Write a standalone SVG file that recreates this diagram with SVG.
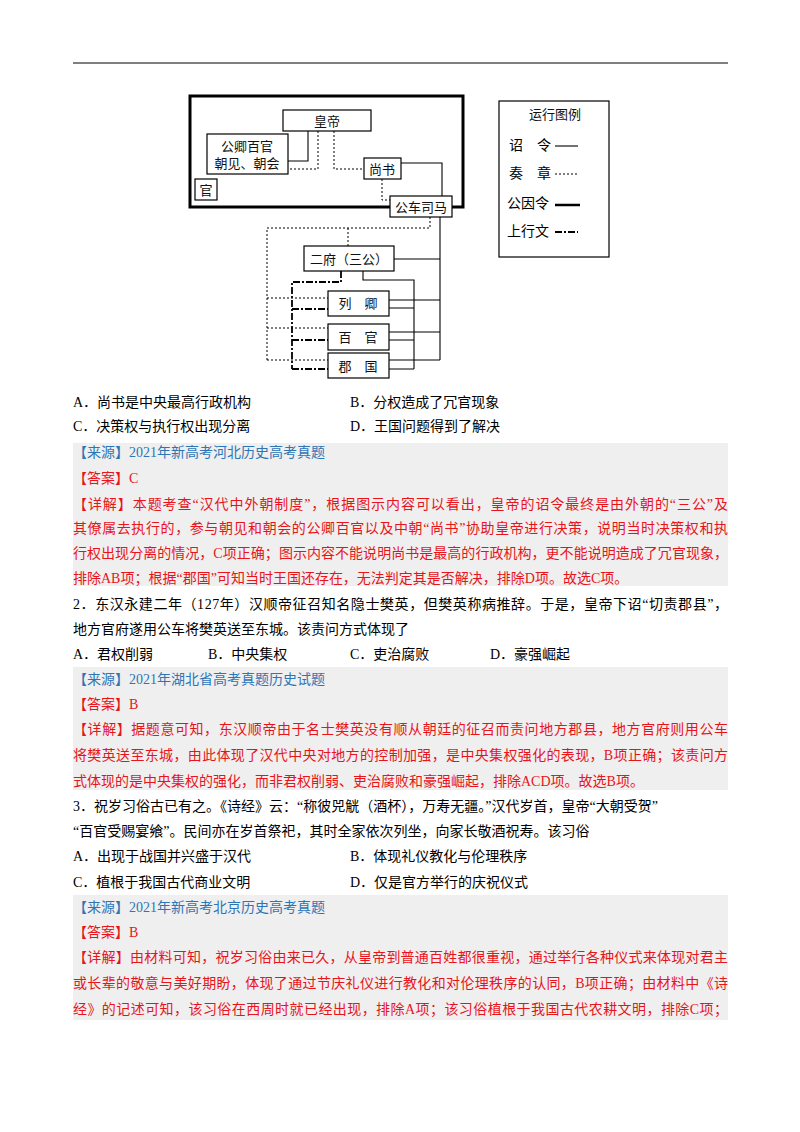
<svg xmlns="http://www.w3.org/2000/svg" width="800" height="1132" viewBox="0 0 800 1132">
<style>
.n{fill:#fff;stroke:#000;stroke-width:1.2}
.t{font-family:"Liberation Serif","Noto Sans CJK SC",serif;font-size:14px;fill:#000}
.d{font-family:"Liberation Serif","Noto Sans CJK SC",serif;font-size:13px;fill:#111;text-anchor:middle}
.s{fill:none;stroke:#000;stroke-width:1.1}
.o{fill:none;stroke:#000;stroke-width:1;stroke-dasharray:2,2}
.dd{fill:none;stroke:#000;stroke-width:1.8;stroke-dasharray:7,2,2,2}
.b{fill:#2e75b6}.r{fill:#e8141b}
.g{fill:#efefef}
</style>
<rect width="800" height="1132" fill="#fff"/>
<line x1="73" y1="63" x2="728" y2="63" stroke="#000" stroke-width="1"/>
<g id="outer"><rect x="190" y="96" width="273" height="111" fill="none" stroke="#000" stroke-width="3"/></g>
<g id="connectors">
<path class="s" d="M308 131V161H288"/>
<path class="o" d="M318 131V169H288"/>
<path class="o" d="M334 131V169H364"/>
<path class="s" d="M401 163H442V196"/>
<path class="o" d="M382 179V200H390"/>
<path class="s" d="M440 217V360"/>
<path class="s" d="M394 259H440M389 300H440M389 332H440M389 360H440"/>
<path class="o" d="M430 217V228H267V360M348 228V246M267 298H328M267 328H328M267 360H328"/>
<path class="s" d="M363 271V280H414V369M389 308H414M389 340H414M389 369H414"/>
<path class="dd" d="M341 271V282H292V369M292 309H328M292 340H328M292 369H328"/>
</g>
<g id="n-emperor"><rect class="n" x="283" y="110" width="88" height="21"/><text class="d" x="327" y="126">皇帝</text></g>
<g id="n-gongqing"><rect class="n" x="207" y="134" width="81" height="40"/><text class="d" x="247" y="151">公卿百官</text><text class="d" x="247" y="168">朝见、朝会</text></g>
<g id="n-guan"><rect class="n" x="195" y="179" width="22" height="21"/><text class="d" x="206" y="195">官</text></g>
<g id="n-shangshu"><rect class="n" x="364" y="158" width="37" height="21"/><text class="d" x="382" y="174">尚书</text></g>
<g id="n-gongche"><rect class="n" x="390" y="196" width="62" height="21"/><text class="d" x="421" y="212">公车司马</text></g>
<g id="n-erfu"><rect class="n" x="304" y="246" width="90" height="25"/><text class="d" x="349" y="264">二府（三公）</text></g>
<g id="n-lieqing"><rect class="n" x="328" y="291" width="61" height="25"/><text class="d" x="358" y="308">列　卿</text></g>
<g id="n-baiguan"><rect class="n" x="328" y="324" width="61" height="26"/><text class="d" x="358" y="342">百　官</text></g>
<g id="n-junguo"><rect class="n" x="328" y="353" width="61" height="25"/><text class="d" x="358" y="371">郡　国</text></g>
<g id="legend">
<rect x="499" y="101" width="110" height="156" fill="#fff" stroke="#000" stroke-width="1.2"/>
<text class="d" x="555" y="119">运行图例</text>
<text class="t" x="509" y="150" font-size="13">诏　令</text><line class="s" x1="555" y1="146" x2="578" y2="146"/>
<text class="t" x="509" y="178" font-size="13">奏　章</text><line class="o" x1="555" y1="174" x2="578" y2="174"/>
<text class="t" x="507" y="208" font-size="13">公因令</text><line x1="555" y1="205" x2="580" y2="205" stroke="#000" stroke-width="2.5"/>
<text class="t" x="507" y="236" font-size="13">上行文</text><line class="dd" x1="555" y1="232" x2="578" y2="232"/>
</g>
<g id="text">
<text class="t" x="73" y="407">A．尚书是中央最高行政机构</text>
<text class="t" x="350" y="407">B．分权造成了冗官现象</text>
<text class="t" x="73" y="431">C．决策权与执行权出现分离</text>
<text class="t" x="350" y="431">D．王国问题得到了解决</text>
<rect class="g" x="73" y="443" width="655" height="143"/>
<text class="t b" x="73" y="457">【来源】2021年新高考河北历史高考真题</text>
<text class="t r" x="73" y="483">【答案】C</text>
<text class="t r" x="73" y="509" textLength="655" lengthAdjust="spacing">【详解】本题考查“汉代中外朝制度”，根据图示内容可以看出，皇帝的诏令最终是由外朝的“三公”及</text>
<text class="t r" x="73" y="533" textLength="655" lengthAdjust="spacing">其僚属去执行的，参与朝见和朝会的公卿百官以及中朝“尚书”协助皇帝进行决策，说明当时决策权和执</text>
<text class="t r" x="73" y="558" textLength="655" lengthAdjust="spacing">行权出现分离的情况，C项正确；图示内容不能说明尚书是最高的行政机构，更不能说明造成了冗官现象，</text>
<text class="t r" x="73" y="583">排除AB项；根据“郡国”可知当时王国还存在，无法判定其是否解决，排除D项。故选C项。</text>
<text class="t" x="73" y="609" textLength="655" lengthAdjust="spacing">2．东汉永建二年（127年）汉顺帝征召知名隐士樊英，但樊英称病推辞。于是，皇帝下诏“切责郡县”，</text>
<text class="t" x="73" y="634">地方官府遂用公车将樊英送至东城。该责问方式体现了</text>
<text class="t" x="73" y="659">A．君权削弱</text>
<text class="t" x="208" y="659">B．中央集权</text>
<text class="t" x="350" y="659">C．吏治腐败</text>
<text class="t" x="490" y="659">D．豪强崛起</text>
<rect class="g" x="73" y="667" width="655" height="123"/>
<text class="t b" x="73" y="684">【来源】2021年湖北省高考真题历史试题</text>
<text class="t r" x="73" y="709">【答案】B</text>
<text class="t r" x="73" y="734" textLength="655" lengthAdjust="spacing">【详解】据题意可知，东汉顺帝由于名士樊英没有顺从朝廷的征召而责问地方郡县，地方官府则用公车</text>
<text class="t r" x="73" y="760" textLength="655" lengthAdjust="spacing">将樊英送至东城，由此体现了汉代中央对地方的控制加强，是中央集权强化的表现，B项正确；该责问方</text>
<text class="t r" x="73" y="786">式体现的是中央集权的强化，而非君权削弱、吏治腐败和豪强崛起，排除ACD项。故选B项。</text>
<text class="t" x="73" y="811">3．祝岁习俗古已有之。《诗经》云：“称彼兕觥（酒杯），万寿无疆。”汉代岁首，皇帝“大朝受贺”</text>
<text class="t" x="73" y="836">“百官受赐宴飨”。民间亦在岁首祭祀，其时全家依次列坐，向家长敬酒祝寿。该习俗</text>
<text class="t" x="73" y="861">A．出现于战国并兴盛于汉代</text>
<text class="t" x="350" y="861">B．体现礼仪教化与伦理秩序</text>
<text class="t" x="73" y="887">C．植根于我国古代商业文明</text>
<text class="t" x="350" y="887">D．仅是官方举行的庆祝仪式</text>
<rect class="g" x="73" y="895" width="655" height="125"/>
<text class="t b" x="73" y="912">【来源】2021年新高考北京历史高考真题</text>
<text class="t r" x="73" y="937">【答案】B</text>
<text class="t r" x="73" y="962" textLength="655" lengthAdjust="spacing">【详解】由材料可知，祝岁习俗由来已久，从皇帝到普通百姓都很重视，通过举行各种仪式来体现对君主</text>
<text class="t r" x="73" y="988" textLength="655" lengthAdjust="spacing">或长辈的敬意与美好期盼，体现了通过节庆礼仪进行教化和对伦理秩序的认同，B项正确；由材料中《诗</text>
<text class="t r" x="73" y="1014" textLength="655" lengthAdjust="spacing">经》的记述可知，该习俗在西周时就已经出现，排除A项；该习俗植根于我国古代农耕文明，排除C项；</text>
</g>
</svg>
